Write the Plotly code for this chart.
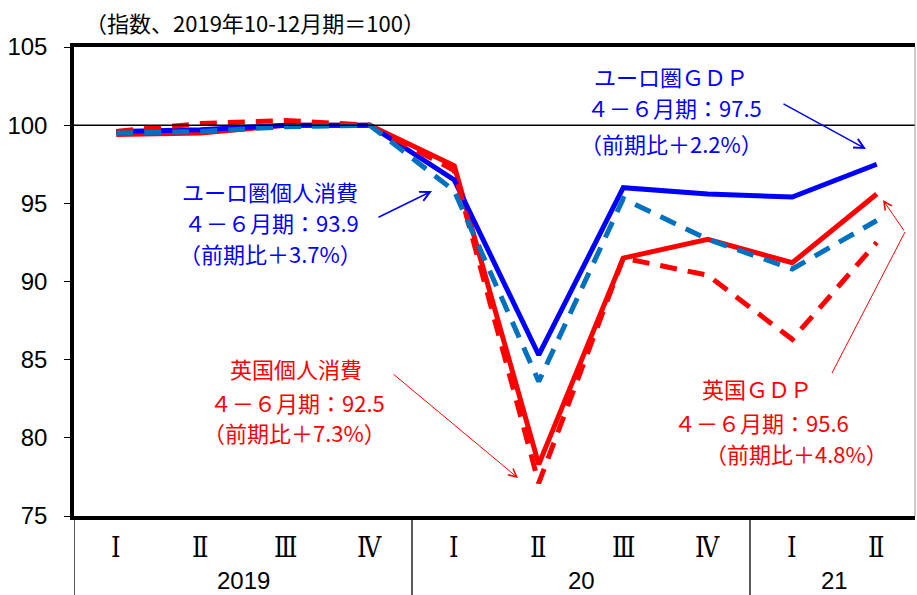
import plotly.graph_objects as go

# Quarter labels and year groups
quarters = ["Ⅰ", "Ⅱ", "Ⅲ", "Ⅳ", "Ⅰ", "Ⅱ", "Ⅲ", "Ⅳ", "Ⅰ", "Ⅱ"]
years = ["2019", "20", "21"]
year_spans = [(0, 3), (4, 7), (8, 9)]

# Index values, 2019 Q4 = 100
euro_gdp = [99.6, 99.7, 100.0, 100.0, 96.5, 85.3, 96.0, 95.6, 95.4, 97.5]
uk_gdp = [99.4, 99.5, 100.0, 100.0, 97.4, 78.3, 91.5, 92.7, 91.2, 95.6]
uk_cons = [99.6, 100.1, 100.3, 100.0, 97.1, 77.1, 91.5, 90.4, 86.3, 92.5]
euro_cons = [99.5, 99.6, 99.9, 100.0, 95.8, 83.6, 95.3, 92.7, 90.8, 93.9]

y_ticks = [75, 80, 85, 90, 95, 100, 105]

BLUE = "#0000FF"
TEAL = "#0070C0"
RED = "#FF0000"
JP = "Noto Sans CJK JP"
NUM = "Liberation Sans Narrow, Liberation Sans, Arial"

x = list(range(len(quarters)))

fig = go.Figure()
fig.add_trace(go.Scatter(x=x, y=uk_gdp, mode="lines", line=dict(color=RED, width=5), name="英国GDP"))
fig.add_trace(go.Scatter(x=x, y=euro_gdp, mode="lines", line=dict(color=BLUE, width=5), name="ユーロ圏GDP"))
fig.add_trace(go.Scatter(x=x, y=uk_cons, mode="lines",
                         line=dict(color=RED, width=5, dash="17px,11px"), name="英国個人消費"))
fig.add_trace(go.Scatter(x=x, y=euro_cons, mode="lines",
                         line=dict(color=TEAL, width=5, dash="17px,11px"), name="ユーロ圏個人消費"))

W, H = 917, 595
L, R, T, B = 74, 2, 47, 79
plot_w = W - L - R
plot_h = H - T - B
cat_w = 84.5
x_hi = -0.5 + plot_w / cat_w


def px_to_x(px):
    return (px - L) / cat_w - 0.5


def px_to_y(py):
    return 105 - (py - T) / plot_h * 30


def py_to_paper(py):
    return 1 - (py - T) / plot_h


shapes = []
# reference line at 100
shapes.append(dict(type="line", xref="paper", yref="y", x0=0, x1=1, y0=100, y1=100,
                   line=dict(color="black", width=1.5)))
# thin right frame
shapes.append(dict(type="line", xref="paper", yref="paper", x0=1, x1=1, y0=0, y1=1,
                   line=dict(color="#9a9a9a", width=1)))
# year separators below the axis
for sx in [-0.5, 3.5, 7.5]:
    shapes.append(dict(type="line", xref="x", yref="paper", x0=sx, x1=sx, y0=0, y1=py_to_paper(H),
                       line=dict(color="black", width=1.3)))

annotations = []
# quarter labels
for i, q in enumerate(quarters):
    annotations.append(dict(x=i, y=py_to_paper(547), xref="x", yref="paper", text=q,
                            showarrow=False,
                            font=dict(family="DejaVu Serif Condensed, DejaVu Serif", size=27, color="black"),
                            xanchor="center", yanchor="middle"))
# year labels
for label, (a, b) in zip(years, year_spans):
    annotations.append(dict(x=(a + b) / 2, y=py_to_paper(580), xref="x", yref="paper", text=label,
                            showarrow=False, font=dict(family=NUM, size=24, color="black"),
                            xanchor="center", yanchor="middle"))

# unit note
annotations.append(dict(x=(255 - L) / plot_w, y=py_to_paper(22), xref="paper", yref="paper",
                        text="（指数、2019年10-12月期＝100）",
                        showarrow=False, font=dict(family=JP, size=22, color="black"),
                        xanchor="center", yanchor="middle"))


def text_block(lines, color, size=22):
    for txt, cx, cy in lines:
        annotations.append(dict(x=px_to_x(cx), y=px_to_y(cy), xref="x", yref="y", text=txt,
                                showarrow=False, font=dict(family=JP, size=size, color=color),
                                xanchor="center", yanchor="middle", align="center"))


def arrow(x0, y0, x1, y1, color, width):
    annotations.append(dict(x=px_to_x(x1), y=px_to_y(y1), ax=px_to_x(x0), ay=px_to_y(y0),
                            xref="x", yref="y", axref="x", ayref="y", text="", showarrow=True,
                            arrowhead=5, arrowsize=1.6 if width < 1.5 else 1.3,
                            arrowwidth=width, arrowcolor=color))


# euro area GDP
text_block([("ユーロ圏ＧＤＰ", 671, 76),
            ("４－６月期：%.1f" % euro_gdp[-1], 674, 107),
            ("（前期比＋2.2%）", 671, 143)], BLUE)
arrow(782, 103, 866, 149, BLUE, 1.5)

# euro area consumption
text_block([("ユーロ圏個人消費", 270, 191),
            ("４－６月期：%.1f" % euro_cons[-1], 271, 222),
            ("（前期比＋3.7%）", 270, 253)], BLUE)
arrow(377, 218, 432, 191, BLUE, 1.5)

# UK consumption
text_block([("英国個人消費", 296, 368),
            ("４－６月期：%.1f" % uk_cons[-1], 297, 402),
            ("（前期比＋7.3%）", 294, 432)], RED)
arrow(392, 373, 518, 478, RED, 1)

# UK GDP
text_block([("英国ＧＤＰ", 757, 388),
            ("４－６月期：%.1f" % uk_gdp[-1], 761, 422),
            ("（前期比＋4.8%）", 796, 453)], RED)
shapes.append(dict(type="line", xref="x", yref="y", x0=px_to_x(832), y0=px_to_y(373),
                   x1=px_to_x(905), y1=px_to_y(232), line=dict(color=RED, width=1)))
arrow(905, 232, 883, 200, RED, 1)

fig.update_layout(
    width=W, height=H,
    margin=dict(l=L, r=R, t=T, b=B, pad=0),
    paper_bgcolor="white", plot_bgcolor="white",
    showlegend=False,
    xaxis=dict(range=[-0.5, x_hi], showticklabels=False, ticks="", showgrid=False, zeroline=False,
               showline=True, mirror=True, linecolor="black", linewidth=3.5, fixedrange=True),
    yaxis=dict(range=[75, 105], tickvals=y_ticks, ticks="outside", ticklen=6, tickwidth=1.2,
               tickcolor="black", showgrid=False, zeroline=False, showline=True, linecolor="black",
               linewidth=3.5, tickfont=dict(family=NUM, size=24, color="black"), ticklabelstandoff=12,
               fixedrange=True),
    shapes=shapes,
    annotations=annotations,
)

fig.write_html("out.html")
